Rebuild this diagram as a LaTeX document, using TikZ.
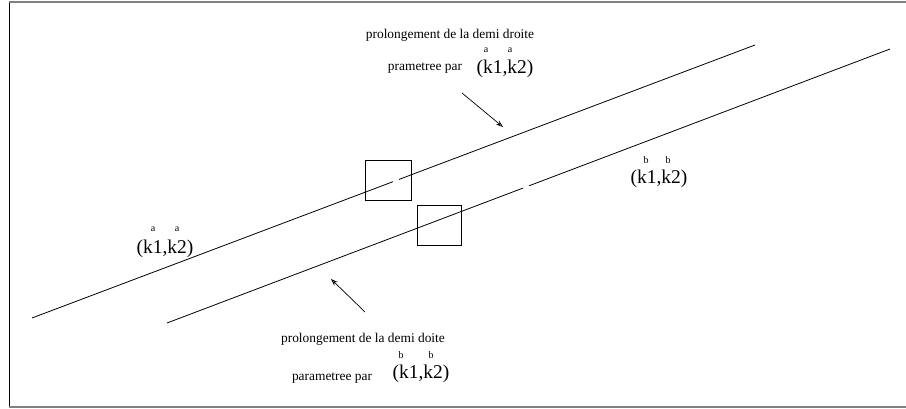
\documentclass[tikz,border=0pt]{standalone}
\usepackage{fontspec}
\setmainfont{Liberation Serif}
\usetikzlibrary{calc,arrows.meta}
\begin{document}
\begin{tikzpicture}[x=1pt,y=-1pt,
  ln/.style={line width=0.8pt},
  arr/.style={line width=0.7pt,-{Stealth[length=7pt,width=5pt,open]}},
  boxn/.style={draw,line width=0.8pt,minimum width=46pt,minimum height=40pt,inner sep=0pt},
  txt/.style={inner sep=0pt,font=\fontsize{13.4}{15}\selectfont},
  big/.style={inner sep=0pt,font=\fontsize{19.5}{22}\selectfont},
  sup/.style={inner sep=0pt,font=\fontsize{10}{11}\selectfont}]
\useasboundingbox (0,0) rectangle (906,409);
% frame
\draw[line width=0.8pt] (9,2) -- (9,407);
\draw[gray,line width=1.5pt] (9,2) -- (906,2);
\draw[gray,line width=1.5pt] (9,407) -- (906,407);
% lines
\coordinate (a1) at (32,318);
\coordinate (a2) at (755,45);
\coordinate (b1) at (167,323);
\coordinate (b2) at (890,49);
\draw[ln] (a1) -- ($(a1)!0.4993!(a2)$);
\draw[ln] ($(a1)!0.5076!(a2)$) -- (a2);
\draw[ln] (b1) -- ($(b1)!0.4924!(b2)$);
\draw[ln] ($(b1)!0.5007!(b2)$) -- (b2);
% boxes
\node[boxn] (box1) at (388,180) {};
\node[boxn,minimum width=44pt] (box2) at (439,225) {};
% arrows
\coordinate (u1) at (462,93);
\coordinate (u2) at (503,127);
\draw[arr] (u1) -- (u2);
\coordinate (d1) at (365,312);
\coordinate (d2) at (331,279);
\draw[arr] (d1) -- (d2);
% top label
\node[txt] (t1) at (450,35) {prolongement de la demi droite};
\node[txt] (t2) at (425,68) {prametree par};
\node[big] (t3) at (505,69) {(k1,k2)};
\node[sup] (t4) at (486,50) {a};
\node[sup] (t5) at (510,50) {a};
% right label
\node[big] (r1) at (659,179) {(k1,k2)};
\node[sup] (r2) at (646,160) {b};
\node[sup] (r3) at (668,160) {b};
% left label
\node[big] (l1) at (165,249) {(k1,k2)};
\node[sup] (l2) at (153,229) {a};
\node[sup] (l3) at (177,229) {a};
% bottom label
\node[txt] (m1) at (363,339) {prolongement de la demi doite};
\node[txt] (m2) at (332,378) {parametree par};
\node[big] (m3) at (421,374) {(k1,k2)};
\node[sup] (m4) at (401,355) {b};
\node[sup] (m5) at (431,355) {b};
\end{tikzpicture}
\end{document}
